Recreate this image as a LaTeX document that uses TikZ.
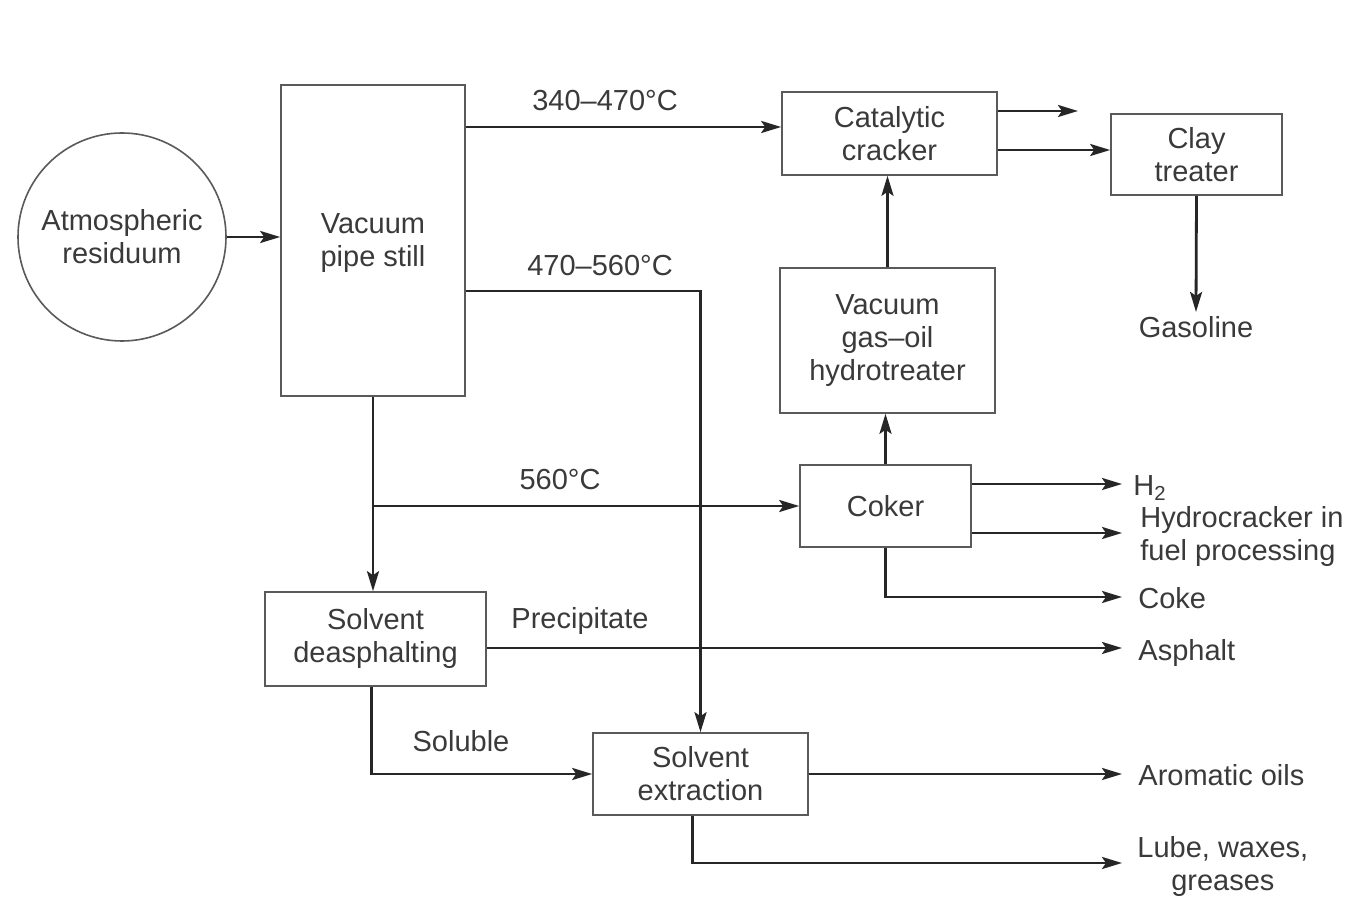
\documentclass[tikz,border=0pt]{standalone}
\usepackage{fontspec}
\setmainfont{Liberation Sans}
\usetikzlibrary{arrows.meta}
\definecolor{ink}{HTML}{262626}
\definecolor{txt}{HTML}{3A3A3A}
\definecolor{edge}{HTML}{5A5A5A}
\begin{document}
\begin{tikzpicture}[x=0.5pt,y=-0.5pt,
  font=\fontsize{14.5}{16.5}\selectfont,
  unit/.style={draw=edge, line width=0.8pt, align=center, text=txt, inner sep=0pt},
  lbl/.style={text=txt, align=left, inner sep=2pt},
  clbl/.style={text=txt, align=center, inner sep=2pt},
  arr/.style={draw=ink, line width=1.4pt, -{Stealth[length=10pt,width=6pt,inset=2pt]}},
  ln/.style={draw=ink, line width=1.4pt}]
\useasboundingbox (0,0) rectangle (1356,897);
\fill[white] (0,0) rectangle (1356,897);

% units
\node[unit, circle, minimum size=104pt] (circ) at (122,237) {Atmospheric\\residuum};
\node[unit, minimum width=92pt, minimum height=155.5pt] (vps) at (373,240.5) {\\[-4pt]Vacuum\\pipe still};
\node[unit, minimum width=107.5pt, minimum height=41.5pt] (cat) at (889.5,133.5) {Catalytic\\cracker};
\node[unit, minimum width=85.5pt, minimum height=40.5pt] (clay) at (1196.5,154.5) {Clay\\treater};
\node[unit, minimum width=107.5pt, minimum height=72.5pt] (hydro) at (887.5,340.5) {Vacuum\\gas--oil\\hydrotreater};
\node[unit, minimum width=85.5pt, minimum height=41pt] (coker) at (885.5,506) {Coker};
\node[unit, minimum width=110.5pt, minimum height=47pt] (sda) at (375.5,639) {Solvent\\deasphalting};
\node[unit, minimum width=107.5pt, minimum height=41pt] (sex) at (700.5,774) {Solvent\\extraction};

% free ends
\coordinate (eCat) at (1078,111);
\coordinate (eH2) at (1122,484);
\coordinate (eHC) at (1122,533);
\coordinate (eCoke) at (1122,597);
\coordinate (eAsph) at (1122,648);
\coordinate (eArom) at (1122,776);
\coordinate (eLube) at (1122,863);

% product labels
\node[clbl] (gas) at (1196,327) {Gasoline};
\node[lbl, anchor=west] (h2) at (1129,488) {H\textsubscript{2}};
\node[lbl, anchor=west] (hc) at (1136,537) {Hydrocracker in\\fuel processing};
\node[lbl, anchor=west] (coke) at (1134,598) {Coke};
\node[lbl, anchor=west] (asph) at (1134,653) {Asphalt};
\node[lbl, anchor=west] (arom) at (1134,775) {Aromatic oils};
\node[clbl, anchor=west, align=center] (lube) at (1133,867) {Lube, waxes,\\greases};

% stream labels
\node[clbl] (t1) at (605,101) {340--470°C};
\node[clbl] (t2) at (600,266) {470--560°C};
\node[clbl] (t3) at (560,480) {560°C};
\node[clbl] (t4) at (580,621) {Precipitate};
\node[clbl] (t5) at (461,741) {Soluble};

% connectors
\draw[arr] (circ.east) -- (vps.west |- circ.east);
\draw[arr] (vps.east |- 0,127) -- (cat.west |- 0,127);
\draw[arr] (vps.east |- 0,291) -| (sex.north);
\draw[arr] (vps.south) -- (vps.south |- sda.north);
\draw[arr] (vps.south |- coker.west) -- (coker.west);
\draw[arr] (coker.north) -- (coker.north |- hydro.south);
\draw[arr] (hydro.north) -- (hydro.north |- cat.south);
\draw[arr] (cat.east |- eCat) -- (eCat);
\draw[arr] (cat.east |- 0,150) -- (clay.west |- 0,150);
\draw[arr] (clay.south) -- (gas.north);
\draw[arr] (coker.east |- eH2) -- (eH2);
\draw[arr] (coker.east |- eHC) -- (eHC);
\draw[arr] (coker.south) |- (eCoke);
\draw[arr] (sda.east |- eAsph) -- (eAsph);
\draw[arr] ([xshift=-2pt]sda.south) |- (sex.west);
\draw[arr] (sex.east) -- (sex.east -| eArom);
\draw[arr] ([xshift=-4pt]sex.south) |- (eLube);
\end{tikzpicture}
\end{document}
